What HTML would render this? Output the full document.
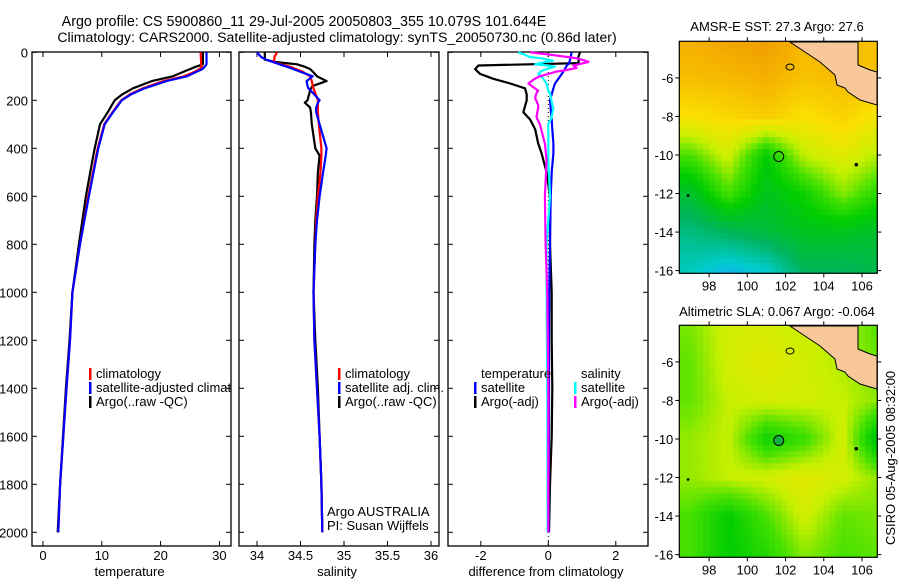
<!DOCTYPE html>
<html><head><meta charset="utf-8"><style>
body{margin:0;background:#fff;width:900px;height:580px;overflow:hidden}
svg{font-family:"Liberation Sans",sans-serif;font-size:13px}
</style></head><body>
<svg id="c" width="900" height="580" xmlns="http://www.w3.org/2000/svg">
<text x="304" y="26" text-anchor="middle" font-size="14.3">Argo profile: CS 5900860_11 29-Jul-2005 20050803_355 10.079S 101.644E</text>
<text x="337" y="42" text-anchor="middle" font-size="14.1">Climatology: CARS2000. Satellite-adjusted climatology: synTS_20050730.nc (0.86d later)</text>
<text x="777" y="31" text-anchor="middle">AMSR-E SST: 27.3 Argo: 27.6</text>
<text x="777" y="316" text-anchor="middle">Altimetric SLA: 0.067 Argo: -0.064</text>
<text transform="translate(895,545) rotate(-90)">CSIRO 05-Aug-2005 08:32:00</text>
</svg>
<script>
// ---- data ----
const tDepth=[0,50,60,70,80,100,120,150,175,200,250,300,400,450,600,800,1000,1200,1400,1600,1800,2000];
const tArgo=[27.2,27.2,26,25,24,22.1,18.5,15.3,13.5,12.2,11,9.7,8.8,8.4,7.3,6.1,5.0,4.5,3.9,3.4,2.9,2.5];
const tClim=[26.8,26.9,27.0,26.6,25.9,24,20.5,17,14.8,13.3,11.8,10.4,9.3,8.9,7.7,6.3,5.0,4.6,4.0,3.45,2.9,2.6];
const tSat=[27.8,27.8,27.5,27.1,26.2,24.5,21,17.3,15,13.4,11.9,10.5,9.4,9.0,7.8,6.3,5.0,4.6,4.0,3.45,2.9,2.6];
const sDepth=[0,20,30,40,50,60,70,80,100,120,140,150,160,200,210,230,250,300,400,430,500,600,700,800,1000,1200,1400,1600,1800,2000];
const sArgo=[34.09,34.09,34.09,34.2,34.46,34.55,34.61,34.64,34.69,34.8,34.64,34.62,34.61,34.58,34.55,34.61,34.62,34.63,34.67,34.72,34.7,34.69,34.67,34.66,34.65,34.67,34.7,34.72,34.74,34.75];
const sClim=[34.23,34.2,34.2,34.18,34.28,34.38,34.45,34.52,34.61,34.63,34.64,34.65,34.66,34.7,34.7,34.7,34.7,34.71,34.74,34.74,34.73,34.7,34.68,34.67,34.65,34.66,34.69,34.72,34.74,34.75];
const sSat=[34.0,34.05,34.1,34.18,34.26,34.34,34.42,34.49,34.64,34.57,34.58,34.59,34.62,34.72,34.7,34.68,34.68,34.72,34.8,34.79,34.76,34.72,34.69,34.67,34.65,34.66,34.69,34.72,34.74,34.75];
const dTDepth=[0,20,45,55,70,90,110,130,150,175,200,250,280,320,380,420,500,600,800,1000,1200,1400,1600,1800,2000];
const dTArgo=[0.94,0.89,0.9,-2.07,-2.17,-2.02,-1.64,-1.13,-0.69,-0.64,-0.64,-0.74,-0.54,-0.39,-0.3,-0.2,-0.05,0.05,0.05,0.1,0.1,0.12,0.1,0.05,0.02];
const dTSat=[0.69,0.66,0.62,0.55,0.49,0.4,0.3,0.2,0.15,0.1,0.05,0.08,0.1,0.12,0.15,0.15,0.1,0.07,0.05,0.03,0.02,0.02,0.02,0.01,0.01];
const dSDepth=[0,10,20,25,35,40,50,55,60,65,75,80,90,100,110,130,160,170,190,220,230,270,300,380,450,600,800,1000,1400,2000];
const dSArgo=[-0.54,0.05,0.6,0.84,1.1,1.19,0.9,0.74,0.8,0.84,0.5,0.25,0,-0.25,-0.4,-0.59,-0.3,-0.35,-0.39,-0.3,-0.3,-0.35,-0.25,-0.1,-0.05,-0.1,-0.08,-0.03,0,0];
const dSSat=[-0.89,-0.7,-0.54,-0.2,0.14,-0.1,-0.39,0,0.2,0.05,-0.15,-0.22,-0.3,-0.2,-0.15,-0.05,0,0.05,0.08,0.12,0.15,0.1,0,0,0,0.05,-0.05,-0.05,-0.03,-0.02];
const depthTicks=[0,200,400,600,800,1000,1200,1400,1600,1800,2000];
const tTicks=[0,10,20,30], sTicks=[34,34.5,35,35.5,36], dTicks=[-2,0,2];
const lonTicks=[98,100,102,104,106], latTicks=[-6,-8,-10,-12,-14,-16];
// map coarse fields (rows lat -4..-16 step 2, cols lon 97..107 step 2), 0=blue 1=orange
const sstGrid=[[0.9,0.93,0.95,0.88,0.88,0.86],[0.87,0.88,0.9,0.86,0.88,0.86],[0.8,0.82,0.84,0.8,0.83,0.78],[0.6,0.72,0.5,0.7,0.75,0.68],[0.42,0.6,0.45,0.52,0.65,0.55],[0.3,0.35,0.4,0.45,0.45,0.42],[0.22,0.15,0.2,0.35,0.35,0.38]];
const slaGrid=[[0.64,0.72,0.72,0.7,0.68,0.6],[0.62,0.72,0.75,0.72,0.68,0.62],[0.62,0.7,0.72,0.72,0.7,0.65],[0.66,0.7,0.52,0.58,0.72,0.42],[0.66,0.7,0.72,0.75,0.72,0.65],[0.6,0.5,0.6,0.72,0.62,0.64],[0.6,0.5,0.55,0.65,0.6,0.62]];
const floatLon=101.644, floatLat=-10.079;

const S=document.getElementById('c'),NS='http://www.w3.org/2000/svg';
function el(t,a,p){const e=document.createElementNS(NS,t);for(const k in a)e.setAttribute(k,a[k]);(p||S).appendChild(e);return e;}
const yD=d=>52.3+d*0.24;
const panels=[
 {x0:32,x1:231,fx:v=>43+(v)*5.88,ticks:tTicks,lab:'temperature',name:'temperature'},
 {x0:239,x1:439,fx:v=>257+(v-34)*87,ticks:sTicks,lab:'salinity',name:'salinity'},
 {x0:448,x1:648,fx:v=>548.3+v*33.75,ticks:dTicks,lab:'difference from climatology',name:'difference'}];
panels.forEach((p,i)=>{
 const g=el('g',{});
 
 
 const r=el('rect',{x:p.x0,y:52,width:p.x1-p.x0,height:494,fill:'none',stroke:'#000','stroke-width':1.3},g);
 
 depthTicks.forEach(d=>{const y=yD(d);
  el('line',{x1:p.x0,x2:p.x0+5,y1:y,y2:y,stroke:'#000'},g);el('line',{x1:p.x1,x2:p.x1-5,y1:y,y2:y,stroke:'#000'},g);
  if(i==0){const t=el('text',{x:28,y:y+5,'text-anchor':'end'},g);t.textContent=d;
   }});
 p.ticks.forEach(v=>{const x=p.fx(v);
  el('line',{x1:x,x2:x,y1:546,y2:541,stroke:'#000'},g);el('line',{x1:x,x2:x,y1:52,y2:57,stroke:'#000'},g);
  const t=el('text',{x:x,y:560,'text-anchor':'middle'},g);t.textContent=v;
  });
 const t=el('text',{x:(p.x0+p.x1)/2-2,y:576,'text-anchor':'middle'},g);t.textContent=p.lab;
 
});
function line(depths,vals,fx,col,name,w){
 const pts=depths.map((d,k)=>fx(vals[k]).toFixed(1)+','+yD(d).toFixed(1)).join(' ');
 const e=el('polyline',{points:pts,fill:'none',stroke:col,'stroke-width':w||2.2,'stroke-linejoin':'round'});
 }
const z=el('line',{x1:548.3,x2:548.3,y1:52,y2:546,stroke:'#000','stroke-dasharray':'1,3'});

line(tDepth,tArgo,panels[0].fx,'#000','temp-argo-line');
line(tDepth,tClim,panels[0].fx,'#f00','temp-climatology-line');
line(tDepth,tSat,panels[0].fx,'#00f','temp-satellite-line');
line(sDepth,sArgo,panels[1].fx,'#000','sal-argo-line');
line(sDepth,sClim,panels[1].fx,'#f00','sal-climatology-line');
line(sDepth,sSat,panels[1].fx,'#00f','sal-satellite-line');
line(dTDepth,dTArgo,panels[2].fx,'#000','dtemp-argo-line');
line(dTDepth,dTSat,panels[2].fx,'#00f','dtemp-satellite-line');
line(dSDepth,dSSat,panels[2].fx,'#0ff','dsal-satellite-line');
line(dSDepth,dSArgo,panels[2].fx,'#f0f','dsal-argo-line');
function leg(x,y,col,txt,name){
 if(col){const m=el('rect',{x:x,y:y-10,width:2.5,height:12,fill:col});}
 const t=el('text',{x:x+7,y:y});t.textContent=txt;}
const cp=el('clipPath',{id:'cp1'});el('rect',{x:32,y:52,width:199,height:494},cp);
leg(89,378,'#f00','climatology','legend-climatology');
leg(89,392,'#00f','satellite-adjusted climatology','legend-satellite-adjusted');
S.lastChild.setAttribute('clip-path','url(#cp1)');
leg(89,406,'#000','Argo(..raw -QC)','legend-argo');
leg(338,378,'#f00','climatology','legend-sal-climatology');
leg(338,392,'#00f','satellite adj. clim.','legend-sal-satellite');
leg(338,406,'#000','Argo(..raw -QC)','legend-sal-argo');
leg(474,378,null,'temperature','legend-temp-header');
leg(474,392,'#00f','satellite','legend-dtemp-satellite');
leg(474,406,'#000','Argo(-adj)','legend-dtemp-argo');
leg(574,378,null,'salinity','legend-sal-header');
leg(574,392,'#0ff','satellite','legend-dsal-satellite');
leg(574,406,'#f0f','Argo(-adj)','legend-dsal-argo');
[['Argo AUSTRALIA',516,'argo-australia-label'],['PI: Susan Wijffels',530,'pi-label']].forEach(a=>{const t=el('text',{x:327,y:a[1]});t.textContent=a[0];});
const stops=[[0.1,[30,160,255]],[0.2,[0,205,205]],[0.35,[0,180,90]],[0.5,[0,205,0]],[0.6,[70,225,0]],[0.7,[200,240,0]],[0.8,[250,225,0]],[0.9,[245,175,0]],[1,[232,140,0]]];
function cmap(v){for(let i=1;i<stops.length;i++){if(v<=stops[i][0]){const a=stops[i-1],b=stops[i],t=Math.max(0,(v-a[0])/(b[0]-a[0]));return 'rgb('+a[1].map((c,k)=>Math.round(c+(b[1][k]-c)*t)).join(',')+')';}}return 'rgb(232,140,0)';}
function drawMap(top,grid,name,filled){
 const L=679.3,R=877.3,B=top+232,lon0=96.44,lon1=106.8,lat0=-4.1,lat1=-16.14;
 const fx=lo=>L+(lo-lon0)/(lon1-lon0)*(R-L), fy=la=>top+(la-lat0)/(lat1-lat0)*(B-top);
 const g=el('g',{});
 const cs=6;
 for(let y=top;y<B;y+=cs)for(let x=L;x<R;x+=cs){
  const lo=lon0+(x+cs/2-L)/(R-L)*(lon1-lon0), la=lat0+(y+cs/2-top)/(B-top)*(lat1-lat0);
  let gx=Math.min(4.999,Math.max(0,(lo-97)/2)), gy=Math.min(5.999,Math.max(0,(-4-la)/2));
  const ix=Math.floor(gx),iy=Math.floor(gy),tx=gx-ix,ty=gy-iy;
  const v=grid[iy][ix]*(1-tx)*(1-ty)+grid[iy][ix+1]*tx*(1-ty)+grid[iy+1][ix]*(1-tx)*ty+grid[iy+1][ix+1]*tx*ty;
  el('rect',{x:x,y:y,width:Math.min(cs,R-x)+0.3,height:Math.min(cs,B-y)+0.3,fill:cmap(v)},g);}
 const o=top-41.3;
 const land=[[790,42],[858,42],[858,65],[870,70],[877,72],[877,105],[860,100],[848,92],[845,88],[837,85],[835,75],[820,62],[805,52]].map(p=>p[0]+','+(p[1]+o)).join(' ');
 const lp=el('polygon',{points:land,fill:'#f8c898',stroke:'#000','stroke-width':1},g);
 el('ellipse',{cx:790,cy:67+o,rx:4,ry:3,fill:'none',stroke:'#000'},g);
 el('circle',{cx:fx(105.7),cy:fy(-10.5),r:1.8,fill:'#000'},g);
 el('circle',{cx:fx(96.9),cy:fy(-12.1),r:1.3,fill:'#000'},g);
 const fl=el('circle',{cx:fx(floatLon),cy:fy(floatLat),r:5,fill:filled?'#10b040':'none',stroke:'#000'},g);
 
 el('rect',{x:L,y:top,width:R-L,height:B-top,fill:'none',stroke:'#000','stroke-width':1.2},g);
 lonTicks.forEach(lo=>{const x=fx(lo);el('line',{x1:x,x2:x,y1:top,y2:top-4,stroke:'#000'},g);el('line',{x1:x,x2:x,y1:B,y2:B+4,stroke:'#000'},g);
  const t=el('text',{x:x,y:B+17,'text-anchor':'middle'},g);t.textContent=lo;});
 latTicks.forEach(la=>{const y=fy(la);el('line',{x1:L,x2:L-4,y1:y,y2:y,stroke:'#000'},g);el('line',{x1:R,x2:R+4,y1:y,y2:y,stroke:'#000'},g);
  const t=el('text',{x:L-6,y:y+5,'text-anchor':'end'},g);t.textContent=la;});
}
drawMap(41.3,sstGrid,'sst-map',false);
drawMap(325.3,slaGrid,'sla-map',true);
</script>
</body></html>
